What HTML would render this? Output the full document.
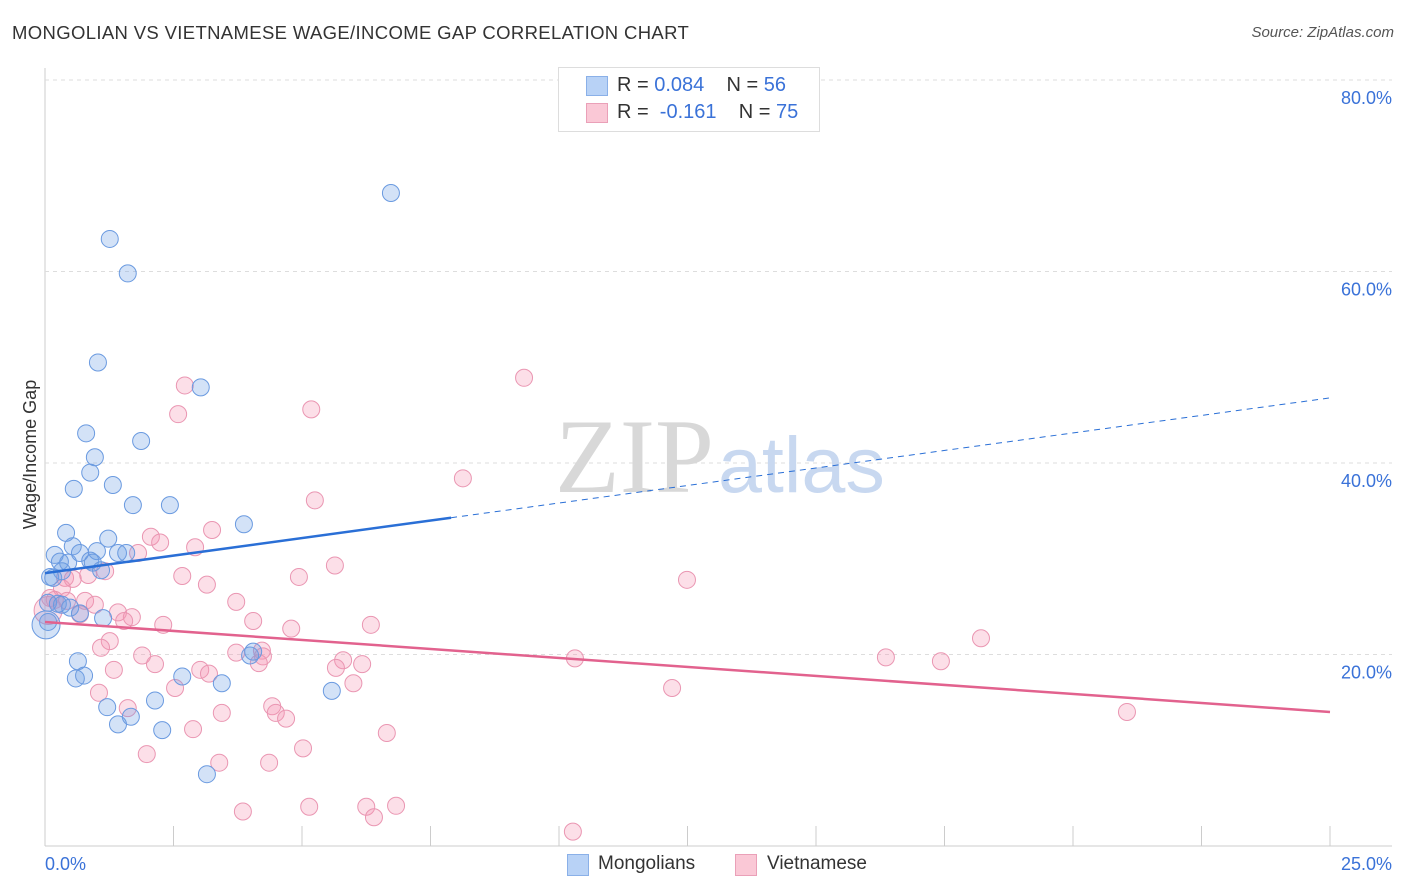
<!DOCTYPE html>
<html><head><meta charset="utf-8"><style>
body{margin:0;width:1406px;height:892px;background:#fff;font-family:"Liberation Sans",sans-serif;overflow:hidden;position:relative}
.t{position:absolute;white-space:nowrap}
</style></head><body>
<div class="t" style="left:12px;top:22px;font-size:18.5px;letter-spacing:0.35px;color:#333">MONGOLIAN VS VIETNAMESE WAGE/INCOME GAP CORRELATION CHART</div>
<div class="t" style="right:12px;top:24px;font-size:15px;color:#555;font-style:italic">Source: ZipAtlas.com</div>
<svg id="chart" width="1406" height="892" style="position:absolute;left:0;top:0">
<g id="grid"></g>
<text x="555" y="492" font-size="106" font-family="Liberation Serif" fill="#d8d8d8">ZIP</text>
<text x="718" y="492" font-size="79" fill="#c8d8f0">atlas</text>
<g id="marks"></g>
<g id="trend"></g>
</svg>
<div class="t" style="left:-44px;top:444px;font-size:18px;color:#333;transform:rotate(-90deg)">Wage/Income Gap</div>
<div style="position:absolute;left:558px;top:67px;width:260px;height:63px;border:1px solid #ddd;background:#fff">
 <div style="position:absolute;left:27px;top:8px;width:20px;height:18px;background:#b8d2f6;border:1px solid #8ab0e8"></div>
 <div class="t" style="left:58px;top:6px;font-size:20px;color:#333">R = <span style="color:#3a72d8">0.084</span>&nbsp;&nbsp;&nbsp; N = <span style="color:#3a72d8">56</span></div>
 <div style="position:absolute;left:27px;top:35px;width:20px;height:18px;background:#fac8d6;border:1px solid #eaa0b8"></div>
 <div class="t" style="left:58px;top:33px;font-size:20px;color:#333">R = &nbsp;<span style="color:#3a72d8">-0.161</span>&nbsp;&nbsp;&nbsp; N = <span style="color:#3a72d8">75</span></div>
</div>
<div style="position:absolute;left:567px;top:854px;width:20px;height:20px;background:#b8d2f6;border:1px solid #8ab0e8"></div>
<div class="t" style="left:598px;top:853px;font-size:19px;color:#333">Mongolians</div>
<div style="position:absolute;left:735px;top:854px;width:20px;height:20px;background:#fac8d6;border:1px solid #eaa0b8"></div>
<div class="t" style="left:767px;top:853px;font-size:19px;color:#333">Vietnamese</div>
<script>
const yTicks=[20,40,60,80];
const yTickLabels=["20.0%","40.0%","60.0%","80.0%"];
const xTicks=[0,2.5,5,7.5,10,12.5,15,17.5,20,22.5,25];
const mongX=[6.73,1.26,1.61,1.03,3.03,0.80,1.87,0.97,0.88,0.56,1.32,1.71,2.43,3.87,0.41,1.23,0.54,0.19,0.68,1.01,1.42,1.58,0.29,0.45,0.88,0.93,1.09,0.33,0.10,0.16,0.06,0.25,0.33,0.49,0.68,1.13,0.06,4.05,3.99,0.64,2.67,0.60,0.76,3.44,5.58,2.14,1.21,1.67,1.42,2.28,3.15,0.02];
const mongY=[68.2,63.4,59.8,50.5,47.9,43.1,42.3,40.6,39.0,37.3,37.7,35.6,35.6,33.6,32.7,32.1,31.3,30.4,30.6,30.8,30.6,30.6,29.7,29.6,29.8,29.6,28.8,28.7,28.1,28.0,25.4,25.3,25.2,24.9,24.3,23.8,23.4,20.3,19.9,19.3,17.7,17.5,17.8,17.0,16.2,15.2,14.5,13.5,12.7,12.1,7.5,23.1];
const vietX=[9.32,2.72,5.18,2.59,8.13,5.25,3.25,2.06,2.24,2.92,1.81,5.64,12.49,2.67,4.94,1.17,0.84,0.39,0.54,3.15,0.33,0.10,0.19,0.43,0.78,0.97,3.72,1.42,0.68,1.69,1.54,4.05,2.30,6.34,4.79,18.21,1.26,1.09,4.22,3.72,1.89,4.24,10.31,16.36,17.43,2.14,5.80,6.17,5.66,4.16,3.02,3.19,1.34,6.00,2.53,12.20,1.05,4.42,4.49,1.61,3.44,21.05,4.69,2.88,6.65,5.02,1.98,3.39,4.36,3.85,5.14,6.25,6.83,6.40,10.27,0.06];
const vietY=[48.9,48.1,45.6,45.1,38.4,36.1,33.0,32.3,31.7,31.2,30.6,29.3,27.8,28.2,28.1,28.7,28.3,28.0,27.9,27.3,26.9,25.9,25.7,25.6,25.6,25.2,25.5,24.4,24.2,23.9,23.5,23.5,23.1,23.1,22.7,21.7,21.4,20.7,20.4,20.2,19.9,19.8,19.6,19.7,19.3,19.0,19.4,19.0,18.6,19.1,18.4,18.0,18.4,17.0,16.5,16.5,16.0,14.6,13.9,14.4,13.9,14.0,13.3,12.2,11.8,10.2,9.6,8.7,8.7,3.6,4.1,4.1,4.2,3.0,1.5,24.6];
const mongTrend=[28.5,46.8];
const vietTrend=[23.4,14.0];
const mongSolidEnd=7.9;
const NS="http://www.w3.org/2000/svg";
const X=v=>45+v/25*1285, Y=v=>846-v/20*191.5;
function mk(tag,attrs,parent){const e=document.createElementNS(NS,tag);for(const k in attrs)e.setAttribute(k,attrs[k]);parent.appendChild(e);return e;}
const grid=document.getElementById('grid'),marks=document.getElementById('marks'),trend=document.getElementById('trend');
let ax=mk('line',{x1:45,y1:68,x2:45,y2:846,stroke:'#ccc'},grid);

let bx=mk('line',{x1:45,y1:846,x2:1392,y2:846,stroke:'#ccc'},grid);

yTicks.forEach((v,i)=>{
 const l=mk('line',{x1:45,x2:1392,y1:Y(v),y2:Y(v),stroke:'#ddd','stroke-dasharray':'4,4'},grid);
 
 const t=mk('text',{x:1392,y:Y(v)+24,'text-anchor':'end','font-size':18,fill:'#3a72d8'},grid);
 t.textContent=yTickLabels[i];
 
});
xTicks.forEach(v=>{
 const l=mk('line',{x1:X(v),x2:X(v),y1:826,y2:846,stroke:'#ccc'},grid);
 
});
let xl=mk('text',{x:45,y:870,'font-size':18,fill:'#3a72d8'},grid);xl.textContent='0.0%';

let xr=mk('text',{x:1392,y:870,'text-anchor':'end','font-size':18,fill:'#3a72d8'},grid);xr.textContent='25.0%';

vietX.forEach((v,i)=>{
 const c=mk('circle',{cx:X(v),cy:Y(vietY[i]),r:i===vietX.length-1?14:8.5,fill:'rgba(244,150,178,0.3)',stroke:'#ea96b2','stroke-width':1},marks);
 
});
mongX.forEach((v,i)=>{
 const c=mk('circle',{cx:X(v),cy:Y(mongY[i]),r:i===mongX.length-1?14:8.5,fill:'rgba(110,160,230,0.3)',stroke:'#6a9ae0','stroke-width':1},marks);
 
});
const mAt=x=>mongTrend[0]+(mongTrend[1]-mongTrend[0])*x/25;
let t1=mk('line',{x1:X(0),y1:Y(mAt(0)),x2:X(mongSolidEnd),y2:Y(mAt(mongSolidEnd)),stroke:'#2a6fd6','stroke-width':2.5},trend);

let t2=mk('line',{x1:X(mongSolidEnd),y1:Y(mAt(mongSolidEnd)),x2:X(25),y2:Y(mAt(25)),stroke:'#2a6fd6','stroke-width':1,'stroke-dasharray':'6,5'},trend);

let t3=mk('line',{x1:X(0),y1:Y(vietTrend[0]),x2:X(25),y2:Y(vietTrend[1]),stroke:'#e2628e','stroke-width':2.5},trend);

</script>
</body></html>
